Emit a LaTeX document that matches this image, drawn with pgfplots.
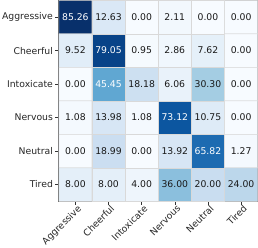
\documentclass[border=0pt]{standalone}
\usepackage{pgfplots}
\pgfplotsset{compat=1.18}
\usepackage{fontspec}
\setmainfont{DejaVu Sans}
\begin{document}
\begin{tikzpicture}
\begin{axis}[
  scale only axis, width=193pt, height=195pt,
  xmin=-0.5, xmax=5.5, ymin=-0.5, ymax=5.5, y dir=reverse,
  enlargelimits=false,
  xtick={0,...,5}, ytick={0,...,5},
  xticklabels={Aggressive,Cheerful,Intoxicate,Nervous,Neutral,Tired},
  yticklabels={Aggressive,Cheerful,Intoxicate,Nervous,Neutral,Tired},
  tick label style={font=\fontsize{9}{10}\selectfont, text=black!85},
  x tick label style={rotate=45, anchor=north east, inner sep=0.5pt, xshift=2pt},
  y tick label style={inner sep=2pt},
  tick pos=left, tick align=outside, major tick length=3.5pt,
  tick style={black!80, line width=0.6pt},
  axis line style={black!60, line width=0.6pt},
  colormap={blues}{rgb=(0.968627,0.984314,1.0) rgb=(0.870588,0.921569,0.968627) rgb=(0.776471,0.858824,0.937255) rgb=(0.619608,0.792157,0.882353) rgb=(0.419608,0.682353,0.839216) rgb=(0.258824,0.572549,0.776471) rgb=(0.129412,0.443137,0.709804) rgb=(0.031373,0.317647,0.611765) rgb=(0.031373,0.188235,0.419608)},
  point meta min=0, point meta max=85.26,
]
\addplot[matrix plot*, mesh/cols=6, mesh/rows=6, point meta=explicit, draw=white!70!gray, line width=0.5pt] coordinates {
(0,0)[85.26] (1,0)[12.63] (2,0)[0.00] (3,0)[2.11] (4,0)[0.00] (5,0)[0.00]
(0,1)[9.52] (1,1)[79.05] (2,1)[0.95] (3,1)[2.86] (4,1)[7.62] (5,1)[0.00]
(0,2)[0.00] (1,2)[45.45] (2,2)[18.18] (3,2)[6.06] (4,2)[30.30] (5,2)[0.00]
(0,3)[1.08] (1,3)[13.98] (2,3)[1.08] (3,3)[73.12] (4,3)[10.75] (5,3)[0.00]
(0,4)[0.00] (1,4)[18.99] (2,4)[0.00] (3,4)[13.92] (4,4)[65.82] (5,4)[1.27]
(0,5)[8.00] (1,5)[8.00] (2,5)[4.00] (3,5)[36.00] (4,5)[20.00] (5,5)[24.00]
};
% dark-text labels
\addplot[only marks, mark=none, point meta=explicit symbolic, nodes near coords,
  nodes near coords style={anchor=center, font=\fontsize{9}{10}\selectfont, text=black!90, inner sep=0pt}] coordinates {
(1,0)[12.63] (2,0)[0.00] (3,0)[2.11] (4,0)[0.00] (5,0)[0.00]
(0,1)[9.52] (2,1)[0.95] (3,1)[2.86] (4,1)[7.62] (5,1)[0.00]
(0,2)[0.00] (2,2)[18.18] (3,2)[6.06] (4,2)[30.30] (5,2)[0.00]
(0,3)[1.08] (1,3)[13.98] (2,3)[1.08] (4,3)[10.75] (5,3)[0.00]
(0,4)[0.00] (1,4)[18.99] (2,4)[0.00] (3,4)[13.92] (5,4)[1.27]
(0,5)[8.00] (1,5)[8.00] (2,5)[4.00] (3,5)[36.00] (4,5)[20.00] (5,5)[24.00]
};
% light-text labels
\addplot[only marks, mark=none, point meta=explicit symbolic, nodes near coords,
  nodes near coords style={anchor=center, font=\fontsize{9}{10}\selectfont, text=white, inner sep=0pt}] coordinates {
(0,0)[85.26] (1,1)[79.05] (1,2)[45.45] (3,3)[73.12] (4,4)[65.82]
};
\end{axis}
\end{tikzpicture}
\end{document}
